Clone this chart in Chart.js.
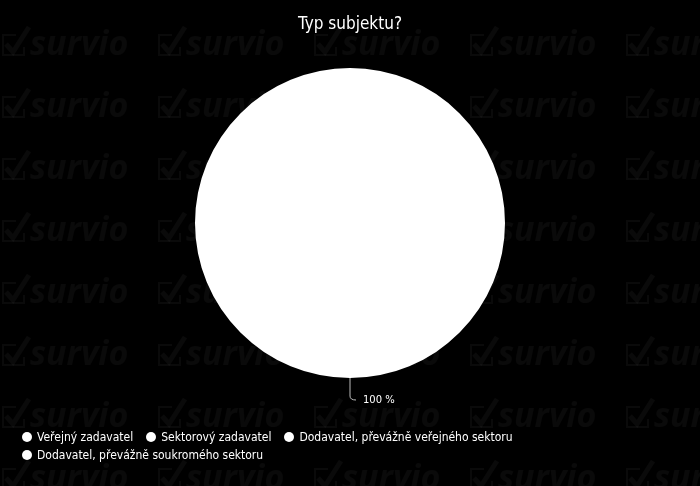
<!DOCTYPE html>
<html>
<head>
<meta charset="utf-8">
<script src="https://cdn.jsdelivr.net/npm/chart.js@4"></script>
<style>
  html, body { margin: 0; padding: 0; background: #000; }
  .chartBox { position: relative; width: 700px; height: 486px; }
  #customLegend { position: absolute; left: 22px; top: 430px; width: 560px; font: 12px "DejaVu Sans Condensed", "DejaVu Sans", sans-serif; color: #fff; }
  #customLegend ul { list-style: none; margin: 0; padding: 0; display: flex; flex-wrap: wrap; column-gap: 13px; row-gap: 4px; }
  #customLegend li { display: flex; align-items: center; height: 14px; white-space: nowrap; }
  #customLegend span { display: inline-block; width: 10px; height: 10px; border-radius: 50%; margin-right: 5px; }
</style>
</head>
<body>
<div class="chartBox">
  <canvas id="myChart" width="700" height="486"></canvas>
</div>
<script>
const categories = ['Veřejný zadavatel', 'Sektorový zadavatel', 'Dodavatel, převážně veřejného sektoru', 'Dodavatel, převážně soukromého sektoru'];
const percents = [100, 0, 0, 0];
const sliceColors = ['#ffffff', '#ffffff', '#ffffff', '#ffffff'];
const chartTitle = 'Typ subjektu?';

// background + faint watermark
const watermark = {
  id: 'watermark',
  beforeDraw(chart) {
    const ctx = chart.ctx;
    ctx.save();
    ctx.fillStyle = '#000';
    ctx.fillRect(0, 0, chart.width, chart.height);
    ctx.fillStyle = 'rgba(255,255,255,0.04)';
    ctx.strokeStyle = 'rgba(255,255,255,0.04)';
    ctx.font = 'italic bold 34px "Open Sans", sans-serif';
    ctx.textBaseline = 'alphabetic';
    for (let row = 0; row < 8; row++) {
      for (let col = 0; col < 5; col++) {
        const x = col * 156;
        const y = 55 + row * 62;
        // box
        ctx.lineWidth = 2;
        ctx.beginPath();
        ctx.moveTo(x + 16, y - 20);
        ctx.lineTo(x + 3, y - 20);
        ctx.lineTo(x + 3, y);
        ctx.lineTo(x + 24, y);
        ctx.lineTo(x + 24, y - 8);
        ctx.stroke();
        // check
        ctx.lineWidth = 5;
        ctx.beginPath();
        ctx.moveTo(x + 6, y - 11);
        ctx.lineTo(x + 13, y - 3);
        ctx.lineTo(x + 29, y - 28);
        ctx.stroke();
        ctx.fillText('survio', x + 30, y);
      }
    }
    ctx.restore();
  }
};

// percentage labels with a leader line
const sliceLabels = {
  id: 'sliceLabels',
  afterDatasetsDraw(chart) {
    const ctx = chart.ctx;
    const meta = chart.getDatasetMeta(0);
    const total = percents.reduce((a, b) => a + b, 0);
    ctx.save();
    meta.data.forEach((arc, i) => {
      if (!percents[i]) return;
      const p = arc.getProps(['x', 'y', 'startAngle', 'endAngle', 'outerRadius'], true);
      const mid = (p.startAngle + p.endAngle) / 2;
      const sx = p.x + Math.cos(mid) * p.outerRadius;
      const sy = p.y + Math.sin(mid) * p.outerRadius;
      const ex = sx + Math.cos(mid) * 18;
      const ey = sy + Math.sin(mid) * 18;
      ctx.strokeStyle = '#bbbbbb';
      ctx.lineWidth = 1;
      ctx.beginPath();
      ctx.moveTo(sx, sy);
      ctx.lineTo(ex, ey);
      ctx.quadraticCurveTo(ex, ey + 4, ex + 6, ey + 4);
      ctx.stroke();
      ctx.fillStyle = '#fff';
      ctx.font = '10px "DejaVu Sans", sans-serif';
      ctx.textAlign = 'left';
      ctx.textBaseline = 'middle';
      ctx.fillText(Math.round(percents[i] / total * 100) + ' %', ex + 13, ey + 4);
    });
    ctx.restore();
  }
};

const data = {
  labels: categories,
  datasets: [{
    data: percents,
    backgroundColor: sliceColors,
    borderWidth: 0
  }]
};

const config = {
  type: 'pie',
  data,
  plugins: [watermark, sliceLabels],
  options: {
    responsive: false,
    animation: false,
    layout: { padding: { top: 0, bottom: 108, left: 0, right: 0 } },
    plugins: {
      legend: { display: false },
      tooltip: { enabled: false },
      title: {
        display: true,
        text: chartTitle,
        color: '#fff',
        font: { family: '"DejaVu Sans Condensed", "DejaVu Sans", sans-serif', size: 17, weight: 'normal' },
        padding: { top: 14, bottom: 33.6 }
      }
    }
  }
};

const myChart = new Chart(document.getElementById('myChart'), config);

// legend
function generateLegend() {
  const chartBox = document.querySelector('.chartBox');
  const div = document.createElement('DIV');
  div.setAttribute('id', 'customLegend');
  const ul = document.createElement('UL');
  categories.forEach((text, i) => {
    const li = document.createElement('LI');
    const spanBox = document.createElement('SPAN');
    spanBox.style.backgroundColor = sliceColors[i];
    li.appendChild(spanBox);
    li.appendChild(document.createTextNode(text));
    ul.appendChild(li);
  });
  div.appendChild(ul);
  chartBox.appendChild(div);
}
generateLegend();
</script>
</body>
</html>
